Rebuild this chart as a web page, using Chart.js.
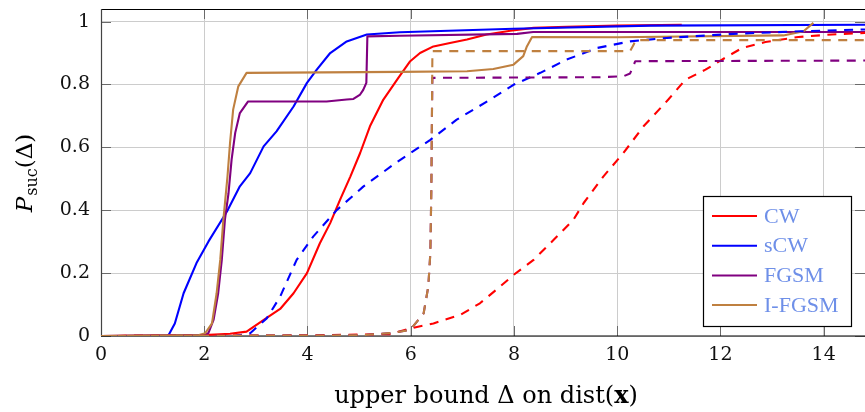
<!DOCTYPE html>
<html>
<head>
<meta charset="utf-8">
<script src="https://cdn.jsdelivr.net/npm/chart.js@4.4.1/dist/chart.umd.min.js"></script>
<style>
html,body{margin:0;padding:0;background:#fff;}
canvas{display:block;}
</style>
</head>
<body>
<canvas id="c" width="865" height="412"></canvas>
<script>
// ---- data ----
const seriesNames = ["CW", "sCW", "FGSM", "I-FGSM"];
const xTicks = [0, 2, 4, 6, 8, 10, 12, 14];
const yTicks = [0, 0.2, 0.4, 0.6, 0.8, 1];

// solid curves
const cwX  = [0, 2.0, 2.5, 2.82, 3.21, 3.47, 3.73, 3.99, 4.24, 4.44, 4.63, 4.83, 5.02, 5.21, 5.47, 5.76, 5.99, 6.18, 6.44, 6.76, 7.09, 7.47, 7.93, 8.38, 9.02, 10.0, 11.25];
const cwY  = [0, 0.003, 0.007, 0.014, 0.058, 0.086, 0.136, 0.20, 0.295, 0.359, 0.433, 0.507, 0.582, 0.667, 0.752, 0.821, 0.874, 0.900, 0.921, 0.932, 0.943, 0.959, 0.971, 0.980, 0.983, 0.987, 0.990];

const scwX = [0, 1.30, 1.43, 1.60, 1.85, 2.08, 2.44, 2.69, 2.89, 3.15, 3.40, 3.73, 3.99, 4.18, 4.44, 4.76, 5.15, 5.79, 7.99, 10.64, 14.8];
const scwY = [0, 0, 0.04, 0.136, 0.232, 0.30, 0.396, 0.476, 0.518, 0.603, 0.651, 0.730, 0.805, 0.847, 0.900, 0.937, 0.959, 0.966, 0.977, 0.987, 0.990];

const fgX  = [0, 2.0, 2.08, 2.18, 2.27, 2.34, 2.40, 2.47, 2.53, 2.60, 2.69, 2.85, 4.37, 4.76, 4.89, 5.02, 5.08, 5.14, 5.16, 5.79, 8.06, 8.37, 14.8];
const fgY  = [0, 0.004, 0.009, 0.051, 0.136, 0.242, 0.369, 0.454, 0.561, 0.646, 0.709, 0.746, 0.746, 0.752, 0.754, 0.768, 0.783, 0.805, 0.953, 0.955, 0.961, 0.967, 0.967];

const ifX  = [0, 1.9, 2.02, 2.15, 2.24, 2.31, 2.37, 2.45, 2.50, 2.56, 2.66, 2.82, 5.79, 7.09, 7.60, 7.99, 8.18, 8.25, 8.35, 10.0, 13.22, 13.61, 13.80];
const ifY  = [0, 0.003, 0.009, 0.04, 0.136, 0.242, 0.369, 0.507, 0.614, 0.720, 0.794, 0.837, 0.840, 0.842, 0.849, 0.863, 0.890, 0.921, 0.951, 0.950, 0.956, 0.969, 0.996];

// dashed curves
const cwdX = [0, 4.0, 5.6, 5.99, 6.44, 6.96, 7.34, 7.73, 7.99, 8.38, 8.77, 9.15, 9.35, 9.73, 10.12, 10.51, 10.99, 11.32, 11.71, 12.03, 12.42, 12.87, 13.51, 14.16, 14.81];
const cwdY = [0, 0.002, 0.006, 0.024, 0.04, 0.067, 0.104, 0.157, 0.194, 0.242, 0.306, 0.369, 0.423, 0.507, 0.582, 0.667, 0.752, 0.815, 0.847, 0.879, 0.916, 0.935, 0.951, 0.959, 0.964];

const scwdX = [0, 2.6, 2.89, 3.21, 3.47, 3.79, 4.11, 4.57, 5.08, 5.73, 6.38, 6.89, 7.54, 7.99, 8.51, 9.02, 9.61, 10.25, 10.96, 12.25, 13.55, 14.8];
const scwdY = [0, 0, 0.009, 0.056, 0.125, 0.242, 0.316, 0.401, 0.475, 0.553, 0.624, 0.688, 0.752, 0.799, 0.837, 0.879, 0.916, 0.937, 0.948, 0.961, 0.969, 0.975];

const fgdX = [0, 5.0, 5.6, 5.99, 6.25, 6.34, 6.38, 6.40, 6.41, 6.42, 9.67, 10.12, 10.25, 10.35, 14.8];
const fgdY = [0, 0.002, 0.009, 0.019, 0.072, 0.157, 0.264, 0.475, 0.688, 0.821, 0.823, 0.826, 0.835, 0.874, 0.876];

const ifdX = [0, 5.0, 5.6, 5.99, 6.25, 6.34, 6.38, 6.40, 6.41, 6.42, 10.25, 10.32, 10.35, 14.8];
const ifdY = [0, 0.002, 0.009, 0.019, 0.072, 0.157, 0.264, 0.475, 0.688, 0.906, 0.906, 0.927, 0.941, 0.941];

// ---- styling ----
const colors = ["#ff0000", "#0000ff", "#800080", "#bf8040"];
const legendTextColor = "#6e8fe8";
const tickFont = "DejaVu Serif";

function pts(xs, ys) { return xs.map((x, i) => ({x: x, y: ys[i]})); }

const solidSets = [[cwX, cwY], [scwX, scwY], [fgX, fgY], [ifX, ifY]];
const dashSets = [[cwdX, cwdY], [scwdX, scwdY], [fgdX, fgdY], [ifdX, ifdY]];

const datasets = [];
solidSets.forEach((s, i) => datasets.push({
  label: seriesNames[i], data: pts(s[0], s[1]), borderColor: colors[i],
  borderWidth: 2.1, pointRadius: 0, tension: 0, fill: false, order: 20 - i
}));
dashSets.forEach((s, i) => datasets.push({
  label: seriesNames[i] + " (dashed)", data: pts(s[0], s[1]), borderColor: colors[i],
  borderWidth: 2.1, borderDash: [9, 7.5], pointRadius: 0, tension: 0, fill: false, order: 10 - i
}));

function fmt(v) { return String(Math.round(v * 10) / 10); }

const framePlugin = {
  id: 'frame',
  beforeDatasetsDraw(chart) {
    const ctx = chart.ctx, a = chart.chartArea;
    const xs = chart.scales.x, ys = chart.scales.y;
    ctx.save();
    // inner ticks
    ctx.strokeStyle = '#6a6a6a'; ctx.lineWidth = 1;
    ctx.beginPath();
    xTicks.forEach(v => {
      const px = Math.round(xs.getPixelForValue(v)) + 0.5;
      ctx.moveTo(px, a.bottom); ctx.lineTo(px, a.bottom - 10);
      ctx.moveTo(px, a.top); ctx.lineTo(px, a.top + 10);
    });
    yTicks.forEach(v => {
      const py = Math.round(ys.getPixelForValue(v)) + 0.5;
      ctx.moveTo(a.left, py); ctx.lineTo(a.left + 10, py);
      ctx.moveTo(a.right, py); ctx.lineTo(a.right - 10, py);
    });
    ctx.stroke();
    // frame
    ctx.strokeStyle = '#000'; ctx.lineWidth = 1.2;
    ctx.beginPath();
    ctx.moveTo(a.left, a.top + 0.5); ctx.lineTo(a.right, a.top + 0.5);
    ctx.moveTo(a.left, a.bottom); ctx.lineTo(a.right, a.bottom);
    ctx.stroke();
    ctx.strokeStyle = '#444';
    ctx.beginPath();
    ctx.moveTo(a.left + 0.5, a.top); ctx.lineTo(a.left + 0.5, a.bottom);
    ctx.stroke();
    ctx.restore();
  },
  afterDraw(chart) {
    const ctx = chart.ctx, a = chart.chartArea;
    ctx.save();
    // x title
    const base = 403;
    const parts = [
      ["upper bound \u0394 on dist(", "24px 'DejaVu Serif'"],
      ["x", "bold 24px 'DejaVu Serif'"],
      [")", "24px 'DejaVu Serif'"]
    ];
    let total = 0;
    parts.forEach(p => { ctx.font = p[1]; total += ctx.measureText(p[0]).width; });
    let cx = (a.left + a.right) / 2 + 3 - total / 2;
    ctx.fillStyle = '#000'; ctx.textBaseline = 'alphabetic'; ctx.textAlign = 'left';
    parts.forEach(p => { ctx.font = p[1]; ctx.fillText(p[0], cx, base); cx += ctx.measureText(p[0]).width; });

    // y title (rotated)
    ctx.save();
    ctx.translate(32, (a.top + a.bottom) / 2 + 1);
    ctx.rotate(-Math.PI / 2);
    const yparts = [
      ["P", "italic 23px 'DejaVu Serif'", 0],
      ["suc", "16px 'DejaVu Serif'", 5],
      ["(\u0394)", "23px 'DejaVu Serif'", 0]
    ];
    let tw = 0;
    yparts.forEach(p => { ctx.font = p[1]; tw += ctx.measureText(p[0]).width; });
    let tx = -tw / 2;
    yparts.forEach(p => { ctx.font = p[1]; ctx.fillText(p[0], tx, p[2]); tx += ctx.measureText(p[0]).width + (p[0] === "P" ? 1 : 0); });
    ctx.restore();

    // legend
    const lx = 703, ly = 196, lw = 148, lh = 130;
    ctx.fillStyle = '#fff';
    ctx.fillRect(lx, ly, lw, lh);
    ctx.strokeStyle = '#000'; ctx.lineWidth = 1.2;
    ctx.strokeRect(lx + 0.5, ly + 0.5, lw, lh);
    ctx.font = "22px 'Liberation Serif'";
    ctx.textBaseline = 'middle';
    seriesNames.forEach((name, i) => {
      const yy = 216 + i * 29.7;
      ctx.strokeStyle = chart.data.datasets[i].borderColor;
      ctx.lineWidth = 2;
      ctx.beginPath(); ctx.moveTo(712, yy); ctx.lineTo(757, yy); ctx.stroke();
      ctx.fillStyle = legendTextColor;
      ctx.fillText(name, 764, yy + 1);
    });
    ctx.restore();
  }
};

new Chart(document.getElementById('c'), {
  type: 'line',
  data: { datasets: datasets },
  options: {
    responsive: false,
    animation: false,
    devicePixelRatio: 1,
    layout: { padding: { top: 9, left: 0, right: 0, bottom: 0 } },
    plugins: { legend: { display: false }, tooltip: { enabled: false } },
    elements: { line: { borderCapStyle: 'butt', borderJoinStyle: 'round' } },
    scales: {
      x: {
        type: 'linear', min: 0, max: 14.8,
        afterBuildTicks: s => { s.ticks = xTicks.map(v => ({value: v})); },
        afterFit: s => { s.height = 76; s.paddingLeft = 0; s.paddingRight = 0; },
        ticks: { font: { family: tickFont, size: 19 }, color: '#111', padding: 8, maxRotation: 0, autoSkip: false, callback: v => fmt(v) },
        grid: { color: '#cccccc', lineWidth: 1, drawTicks: false },
        border: { display: false }
      },
      y: {
        type: 'linear', min: 0, max: 1.04,
        afterBuildTicks: s => { s.ticks = yTicks.map(v => ({value: v})); },
        afterFit: s => { s.width = 101; s.paddingTop = 0; s.paddingBottom = 0; },
        ticks: { font: { family: tickFont, size: 19 }, color: '#111', padding: 11, autoSkip: false, callback: v => fmt(v) },
        grid: { color: '#cccccc', lineWidth: 1, drawTicks: false },
        border: { display: false }
      }
    }
  },
  plugins: [framePlugin]
});
</script>
</body>
</html>
